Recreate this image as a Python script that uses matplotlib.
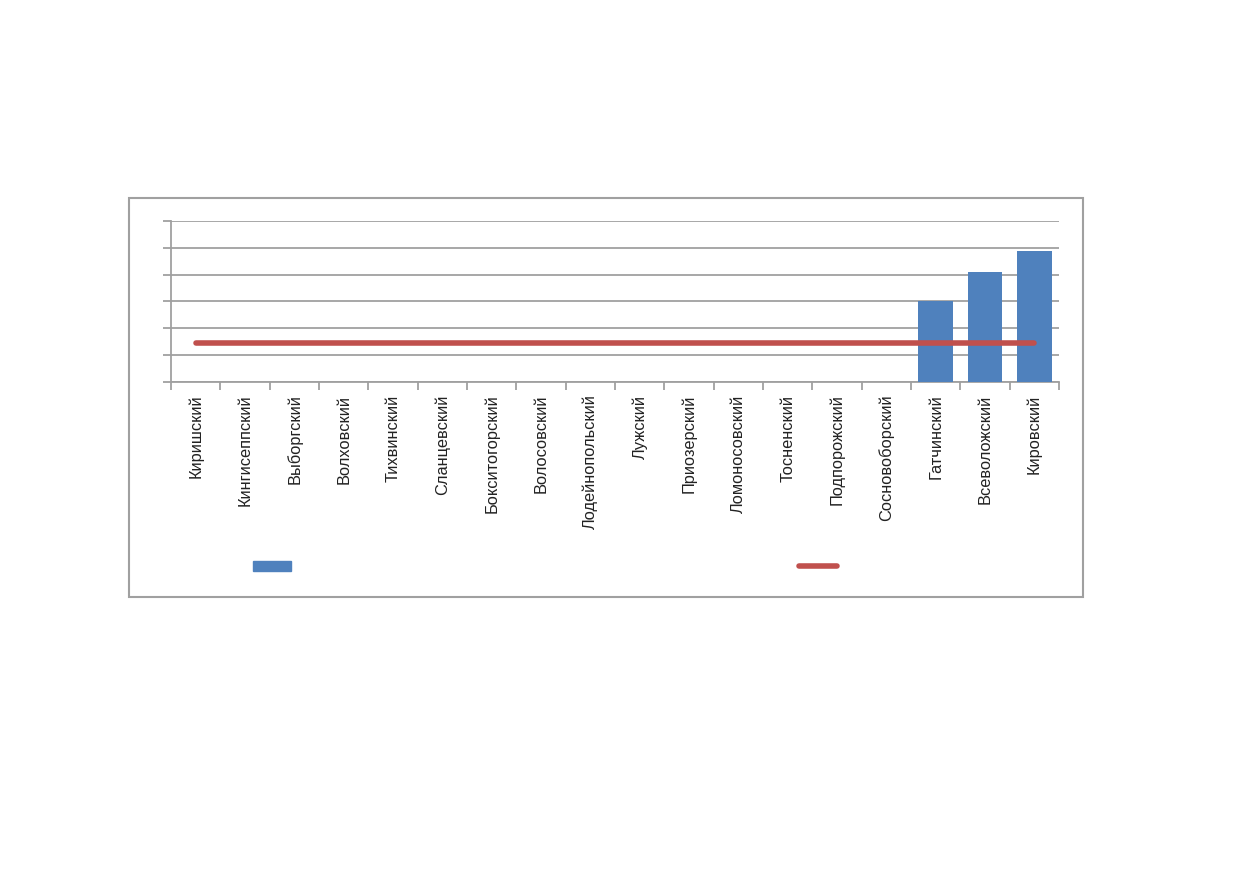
import matplotlib.pyplot as plt
from matplotlib.patches import Rectangle
from matplotlib.lines import Line2D
import numpy as np

plt.rcParams['font.family'] = ['Liberation Sans', 'DejaVu Sans']

districts = ["Киришский", "Кингисеппский", "Выборгский", "Волховский", "Тихвинский",
             "Сланцевский", "Бокситогорский", "Волосовский", "Лодейнопольский", "Лужский",
             "Приозерский", "Ломоносовский", "Тосненский", "Подпорожский",
             "Сосновоборский", "Гатчинский", "Всеволожский", "Кировский"]
bar_values = [0, 0, 0, 0, 0, 0, 0, 0, 0, 0, 0, 0, 0, 0, 0, 3.0, 4.1, 4.88]
line_values = [1.45] * len(districts)

blue = "#4f81bd"
red = "#c0504d"
grid_c = "#a0a0a0"

fig = plt.figure(figsize=(12.39, 8.72), dpi=100)
W, H = 1239, 872

# outer chart frame
fig.patches.append(Rectangle((129 / W, 1 - 597 / H), (1083 - 129) / W, (597 - 198) / H,
                             transform=fig.transFigure, fill=False,
                             edgecolor=grid_c, linewidth=1.5))

ax = fig.add_axes([171 / W, 1 - 382 / H, (1059 - 171) / W, (382 - 221) / H])
x = np.arange(len(districts))
ax.bar(x, bar_values, width=0.7, color=blue, zorder=3)
ax.plot(x, line_values, color=red, linewidth=4, solid_capstyle="round", zorder=4)

ax.set_xlim(-0.5, len(districts) - 0.5)
ax.set_ylim(0, 6)
ax.set_yticks(np.arange(0, 7, 1))
ax.set_yticklabels([])
ax.yaxis.grid(True, color=grid_c, linewidth=1.3, zorder=0)
ax.set_xticks(np.arange(-0.5, len(districts), 1))
ax.set_xticklabels([])
ax.set_xticks(x, minor=True)
ax.set_xticklabels(districts, minor=True, rotation=90, fontsize=11.8, color="#222222")
ax.tick_params(axis="x", which="minor", length=0, pad=9)
ax.tick_params(axis="x", which="major", length=6, color=grid_c, width=1.3)
ax.tick_params(axis="y", length=6, color=grid_c, width=1.3)
for s in ["top", "right"]:
    ax.spines[s].set_visible(False)
for s in ["left", "bottom"]:
    ax.spines[s].set_color(grid_c)
    ax.spines[s].set_linewidth(1.3)

# legend entries (series names are empty)
h1 = Rectangle((0, 0), 1, 1, color=blue)
h2 = Line2D([0], [0], color=red, linewidth=4, solid_capstyle="round")
fig.legend([h1], [" "], loc="center left", frameon=False,
           bbox_to_anchor=(240 / W, 1 - 567 / H), handlelength=2.8, handleheight=0.7)
fig.legend([h2], [" "], loc="center left", frameon=False,
           bbox_to_anchor=(786 / W, 1 - 567 / H), handlelength=2.8)

fig.savefig("out.png", dpi=100)
